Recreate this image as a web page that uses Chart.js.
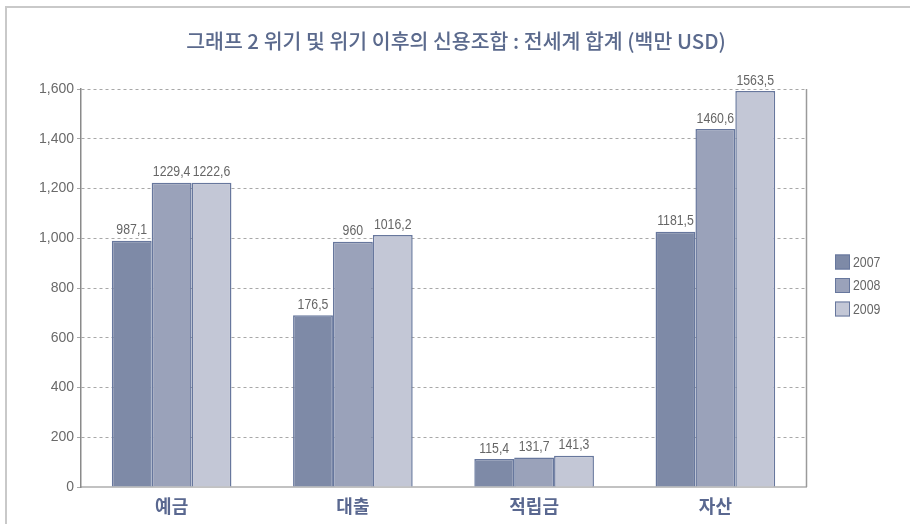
<!DOCTYPE html>
<html>
<head>
<meta charset="utf-8">
<script src="https://cdn.jsdelivr.net/npm/chart.js@4.4.1/dist/chart.umd.min.js"></script>
<style>
  html, body { margin: 0; padding: 0; background: #ffffff; }
  #wrap { position: relative; width: 910px; height: 524px; overflow: hidden; }
  #frame { position: absolute; left: 5px; top: 6px; width: 1000px; height: 1000px;
           border-left: 2px solid #c9c9c9; border-top: 2px solid #c9c9c9; }
  #c { position: absolute; left: 0; top: 0; }
</style>
</head>
<body>
<div id="wrap">
  <div id="frame"></div>
  <canvas id="c" width="910" height="524"></canvas>
</div>
<script>
// ---- data ----
const categories = ['예금', '대출', '적립금', '자산'];
const seriesNames = ['2007', '2008', '2009'];
// bar heights as drawn in the picture
const values2007 = [990, 690, 113, 1026];
const values2008 = [1223, 986, 119, 1439];
const values2009 = [1223, 1013, 126, 1592];
// value labels as printed above the bars
const labels2007 = ['987,1', '176,5', '115,4', '1181,5'];
const labels2008 = ['1229,4', '960', '131,7', '1460,6'];
const labels2009 = ['1222,6', '1016,2', '141,3', '1563,5'];
const yTickValues = [0, 200, 400, 600, 800, 1000, 1200, 1400, 1600];
const titleText = '그래프 2 위기 및 위기 이후의 신용조합 : 전세계 합계 (백만 USD)';

const fills = ['#7e8aa7', '#9aa2ba', '#c3c7d6'];
const borderCol = '#67779d';
const narrow = "'Liberation Sans Narrow', 'Liberation Sans', Arial, sans-serif";
const kr = "'Noto Sans CJK KR', 'Noto Sans', sans-serif";

const valueLabels = [labels2007, labels2008, labels2009];

function condensedText(ctx, text, x, y, sx) {
  ctx.save();
  ctx.translate(x, y);
  ctx.scale(sx, 1);
  ctx.fillText(text, 0, 0);
  ctx.restore();
}

const overlay = {
  id: 'overlay',
  afterDatasetsDraw(chart) {
    const ctx = chart.ctx;
    const area = chart.chartArea;
    ctx.save();
    // title
    ctx.font = '500 20.5px ' + kr;
    ctx.fillStyle = '#5b6a8d';
    ctx.textAlign = 'center';
    ctx.textBaseline = 'middle';
    ctx.fillText(titleText, 456, 41);
    // right border of plot
    ctx.strokeStyle = '#9a9a9a';
    ctx.lineWidth = 1.5;
    ctx.beginPath();
    ctx.moveTo(area.right + 0.5, area.top);
    ctx.lineTo(area.right + 0.5, area.bottom);
    ctx.stroke();
    // value labels
    ctx.font = '15px ' + narrow;
    ctx.fillStyle = '#666666';
    ctx.textAlign = 'center';
    ctx.textBaseline = 'bottom';
    chart.data.datasets.forEach((ds, i) => {
      const meta = chart.getDatasetMeta(i);
      meta.data.forEach((bar, j) => {
        condensedText(ctx, valueLabels[i][j], bar.x, bar.y - 3, 0.82);
      });
    });
    // legend
    const lx = area.right + 29;
    const ys = [262, 285.5, 309];
    ctx.font = '14px ' + narrow;
    ctx.textAlign = 'left';
    ctx.textBaseline = 'middle';
    chart.data.datasets.forEach((ds, i) => {
      ctx.fillStyle = ds.backgroundColor;
      ctx.fillRect(lx, ys[i] - 7.5, 15, 15);
      ctx.strokeStyle = borderCol;
      ctx.lineWidth = 1;
      ctx.strokeRect(lx + 0.5, ys[i] - 7, 14, 14);
      ctx.fillStyle = '#666666';
      condensedText(ctx, ds.label, lx + 18, ys[i] + 1, 0.88);
    });
    ctx.restore();
  }
};

new Chart(document.getElementById('c'), {
  type: 'bar',
  data: {
    labels: categories,
    datasets: [
      { label: seriesNames[0], data: values2007, backgroundColor: fills[0] },
      { label: seriesNames[1], data: values2008, backgroundColor: fills[1] },
      { label: seriesNames[2], data: values2009, backgroundColor: fills[2] }
    ].map(d => Object.assign(d, { borderColor: borderCol, borderWidth: 1.5,
                                  categoryPercentage: 0.66, barPercentage: 1.0 }))
  },
  options: {
    responsive: false,
    animation: false,
    layout: { padding: { left: 6, right: 104, top: 89, bottom: 7 } },
    plugins: {
      legend: { display: false },
      tooltip: { enabled: false },
      title: { display: false }
    },
    scales: {
      x: {
        grid: { display: false },
        border: { color: '#c2c2c2', width: 2 },
        ticks: { color: '#5a6890', font: { family: kr, size: 18, weight: 'bold' }, padding: 0 },
        afterFit(s) { s.height = 30; }
      },
      y: {
        min: 0, max: 1600,
        afterBuildTicks(s) { s.ticks = yTickValues.map(v => ({ value: v })); },
        ticks: {
          color: '#6a6a6a',
          font: { family: narrow, size: 14 },
          padding: 3,
          callback: v => v.toLocaleString('en-US')
        },
        grid: { color: '#a8a8a8', lineWidth: 1, tickLength: 4, drawTicks: true },
        border: { color: '#8a8a8a', width: 1.5, dash: [3, 3] },
        afterFit(s) { s.width = 75; }
      }
    }
  },
  plugins: [overlay]
});
</script>
</body>
</html>
